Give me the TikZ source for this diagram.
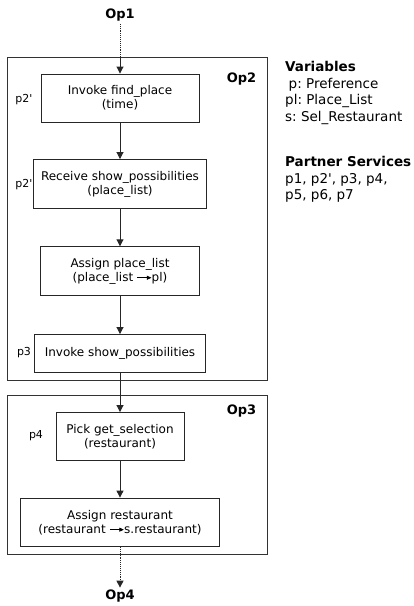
\documentclass[tikz,border=0pt]{standalone}
\usepackage{fontspec}
\setmainfont{DejaVu Sans}
\usetikzlibrary{arrows.meta, positioning}
\frenchspacing

\newcommand{\mapsarrow}{\tikz[baseline=-3.4pt]\draw[line width=0.7pt, -{Triangle[length=4.5pt,width=4pt]}] (0,0) -- (14pt,0);}

\tikzset{
	>={Triangle[length=7pt,width=7pt]},
	opframe/.style={draw=black!80, line width=0.9pt, inner sep=0pt},
	taskbox/.style={draw=black!85, line width=0.9pt, inner sep=0pt, align=center, font=\fontsize{12}{14}\selectfont},
	oplabel/.style={font=\fontsize{13}{15}\selectfont\bfseries, inner sep=2pt},
	partner/.style={font=\fontsize{11}{13}\selectfont, inner sep=0pt},
	legend/.style={align=left, anchor=north west, inner sep=0pt, font=\fontsize{13.5}{16.4}\selectfont},
	flow/.style={->, line width=0.9pt, draw=black!85},
}

\begin{document}
\begin{tikzpicture}[x=1pt, y=1pt]
	\useasboundingbox (0,0) rectangle (414,-606);

	% operation frames
	\node[opframe, minimum width=260pt, minimum height=323pt] (op2box) at (137,-218.5) {};
	\node[opframe, minimum width=260pt, minimum height=159pt] (op3box) at (137,-475.3) {};

	\node[oplabel] (op1) at (120,-15.5) {Op1};
	\node[oplabel] (op2lbl) at (241.5,-79) {Op2};
	\node[oplabel] (op3lbl) at (241.5,-411) {Op3};
	\node[oplabel] (op4) at (120,-596) {Op4};

	% activities
	\node[taskbox, minimum width=158pt, minimum height=48pt] (findplace) at (120,-98) {Invoke find\_place\\(time)};
	\node[taskbox, minimum width=173pt, minimum height=49pt] (recvposs) at (120,-184) {Receive show\_possibilities\\(place\_list)};
	\node[taskbox, minimum width=159pt, minimum height=48.5pt] (assignpl) at (120,-271) {Assign place\_list\\(place\_list \mapsarrow pl)};
	\node[taskbox, minimum width=171pt, minimum height=38pt] (invposs) at (120,-353.5) {Invoke show\_possibilities};
	\node[taskbox, minimum width=128pt, minimum height=48pt] (pickgs) at (120,-436.5) {Pick get\_selection\\(restaurant)};
	\node[taskbox, minimum width=199pt, minimum height=48.5pt] (assignr) at (120,-522.3) {Assign restaurant\\(restaurant \mapsarrow s.restaurant)};

	% partners
	\node[partner] (p2a) at (24,-100) {p2\textquotesingle};
	\node[partner] (p2b) at (24,-185) {p2\textquotesingle};
	\node[partner] (p3) at (24,-353) {p3};
	\node[partner] (p4) at (36,-436) {p4};

	% legend
	\node[legend] (vars) at (285,-61.5) {\textbf{Variables}\\\hspace*{3.5pt}p: Preference\\pl: Place\_List\\s: Sel\_Restaurant};
	\node[legend] (partners) at (285,-156.5) {\textbf{Partner Services}\\p1, p2\textquotesingle, p3, p4,\\p5, p6, p7};

	% control flow
	\coordinate (op2in) at (op1 |- op2box.north);
	\draw[densely dotted, line width=0.9pt, draw=black!85] (op1) -- (op2in);
	\draw[flow] (op2in) -- (findplace);
	\draw[flow] (findplace) -- (recvposs);
	\draw[flow] (recvposs) -- (assignpl);
	\draw[flow] (assignpl) -- (invposs);
	\draw[flow] (invposs) -- (pickgs);
	\draw[flow] (pickgs) -- (assignr);
	\draw[flow, densely dotted] (assignr) -- (op4);
\end{tikzpicture}
\end{document}
